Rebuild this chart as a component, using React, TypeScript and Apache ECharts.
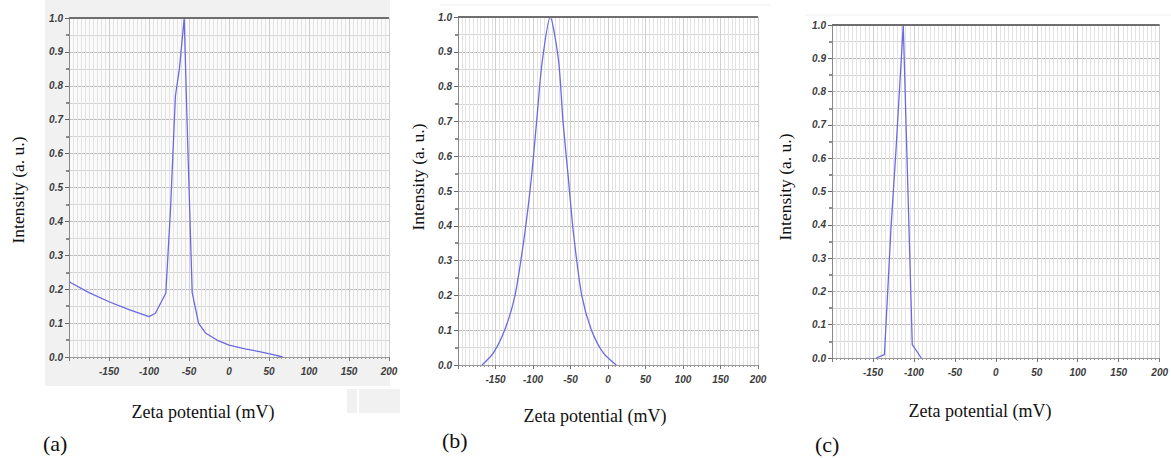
import React, { useEffect, useRef } from "react";
import * as echarts from "echarts";

// Panel (a)
const xA = [-200, -175, -150, -125, -100, -92, -79, -73, -67, -62, -56, -52, -46, -38, -29, -15, 0, 20, 38, 55, 67];
const yA = [0.222, 0.19, 0.163, 0.14, 0.119, 0.129, 0.188, 0.44, 0.77, 0.85, 1.0, 0.66, 0.19, 0.099, 0.07, 0.05, 0.035, 0.024, 0.016, 0.007, 0.0];
// Panel (b)
const xB = [-168, -153, -137, -124, -111, -102, -95, -88, -77, -66, -60, -53, -46, -35, -22, -6, 11];
const yB = [0.0, 0.034, 0.105, 0.2, 0.378, 0.541, 0.704, 0.867, 1.0, 0.876, 0.7, 0.54, 0.378, 0.2, 0.1, 0.034, 0.0];
// Panel (c)
const xC = [-146, -136, -128, -122, -113, -102, -91];
const yC = [0.0, 0.01, 0.39, 0.62, 1.0, 0.04, 0.0];

const xMin = -200;
const xMax = 200;
const xStep = 50;
const yMin = 0;
const yMax = 1;
const yStep = 0.1;

const yTitle = "Intensity (a. u.)";
const xTitle = "Zeta potential (mV)";
const panelLabels = ["(a)", "(b)", "(c)"];

const grids = [
  { left: 69, top: 18, width: 320, height: 339 },
  { left: 458, top: 17, width: 300, height: 348 },
  { left: 832, top: 25, width: 332, height: 333 },
];

const zip = (xs: number[], ys: number[]) => xs.map((x, i) => [x, ys[i]]);

export default function App() {
  const ref = useRef<HTMLDivElement>(null);
  useEffect(() => {
    document.body.style.margin = "0";
    const chart = echarts.init(ref.current!, null, { renderer: "svg" });
    const tickFont = {
      fontFamily: "Liberation Sans",
      fontSize: 10,
      fontStyle: "italic" as const,
      fontWeight: "bold" as const,
      color: "#3c3c3c",
    };
    const xAxes = grids.map((_, i) => ({
      type: "value",
      gridIndex: i,
      min: xMin,
      max: xMax,
      interval: xStep,
      axisLine: { show: true, onZero: false, lineStyle: { color: "#999", width: 1 } },
      axisTick: { show: true, length: 4, lineStyle: { color: "#777" } },
      minorTick: { show: true, splitNumber: 10, length: 2, lineStyle: { color: "#999" } },
      axisLabel: {
        ...tickFont,
        margin: 9,
        formatter: (v: number) => (v === xMin ? "" : String(v)),
      },
      splitLine: { show: true, lineStyle: { color: "#cfcfcf", width: 1 } },
      minorSplitLine: { show: true, lineStyle: { color: "#e3e3e3", width: 1 } },
    }));
    const yAxes = grids.map((_, i) => ({
      type: "value",
      gridIndex: i,
      min: yMin,
      max: yMax,
      interval: yStep,
      axisLine: { show: true, onZero: false, lineStyle: { color: "#888", width: 1 } },
      axisTick: { show: true, length: 4, lineStyle: { color: "#666" } },
      minorTick: { show: true, splitNumber: 2, length: 3, lineStyle: { color: "#666", width: 1.5 } },
      axisLabel: { ...tickFont, margin: 6, formatter: (v: number) => v.toFixed(1) },
      splitLine: { show: true, lineStyle: { color: "#bdbdbd", width: 1 } },
      minorSplitLine: { show: true, lineStyle: { color: "#d6d6d6", width: 1 } },
    }));
    const datasets = [zip(xA, yA), zip(xB, yB), zip(xC, yC)];
    const series = datasets.map((d, i) => ({
      type: "line",
      xAxisIndex: i,
      yAxisIndex: i,
      data: d,
      symbol: "none",
      smooth: i === 1 ? 0.25 : false,
      lineStyle: { color: "#6a6ae0", width: 1.3 },
      markLine: {
        silent: true,
        symbol: "none",
        label: { show: false },
        lineStyle: { color: "#6e6e6e", width: 2, type: "solid" },
        data: [{ yAxis: yMax }],
      },
    }));
    const serif = "Liberation Serif";
    const yTitlePos = [
      [18, 190],
      [418, 177],
      [785, 187],
    ];
    const xTitlePos = [
      [203, 412],
      [595, 416],
      [980, 411],
    ];
    const labelPos = [
      [43, 443],
      [442, 440],
      [815, 444],
    ];
    const graphic: any[] = [
      { type: "rect", z: -10, shape: { x: 45, y: 0, width: 345, height: 386 }, style: { fill: "#f1f1f1" } },
      { type: "rect", z: -10, shape: { x: 347, y: 389, width: 10, height: 24 }, style: { fill: "#f1f1f1" } },
      { type: "rect", z: -10, shape: { x: 359, y: 389, width: 41, height: 24 }, style: { fill: "#f1f1f1" } },
      { type: "rect", z: -9, shape: { x: 69, y: 18, width: 320, height: 339 }, style: { fill: "#fbfbfb" } },
      { type: "line", z: -9, shape: { x1: 440, y1: 5, x2: 770, y2: 5 }, style: { stroke: "#eee", lineWidth: 1 } },
      { type: "line", z: -9, shape: { x1: 805, y1: 15, x2: 1171, y2: 15 }, style: { stroke: "#eee", lineWidth: 1 } },
    ];
    yTitlePos.forEach(([x, y]) =>
      graphic.push({
        type: "text",
        x,
        y,
        rotation: Math.PI / 2,
        style: { text: yTitle, font: `17.5px "${serif}"`, fill: "#111", align: "center", verticalAlign: "middle" },
      })
    );
    xTitlePos.forEach(([x, y]) =>
      graphic.push({
        type: "text",
        x,
        y,
        style: { text: xTitle, font: `18px "${serif}"`, fill: "#111", align: "center", verticalAlign: "middle" },
      })
    );
    labelPos.forEach(([x, y], i) =>
      graphic.push({
        type: "text",
        x,
        y,
        style: { text: panelLabels[i], font: `22px "${serif}"`, fill: "#111", align: "left", verticalAlign: "middle" },
      })
    );
    chart.setOption({
      animation: false,
      backgroundColor: "#fff",
      grid: grids.map((g) => ({ ...g, containLabel: false })),
      xAxis: xAxes,
      yAxis: yAxes,
      series,
      graphic,
    });
    return () => chart.dispose();
  }, []);
  return <div ref={ref} style={{ width: 1171, height: 458 }} />;
}
